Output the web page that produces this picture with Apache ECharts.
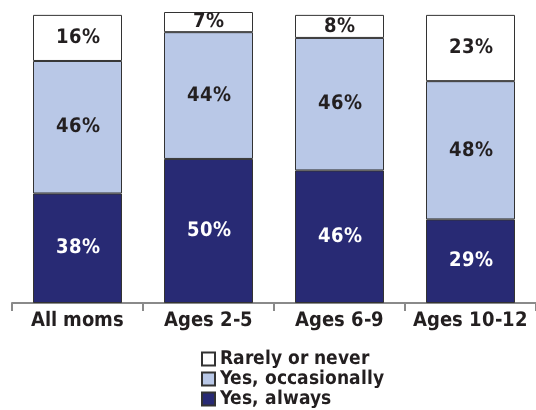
<!DOCTYPE html>
<html>
<head>
<meta charset="utf-8">
<script src="https://cdn.jsdelivr.net/npm/echarts@6/dist/echarts.min.js"></script>
<style>
  @font-face {
    font-family: 'CondBold';
    font-weight: bold;
    src: local('DejaVu Sans Condensed Bold'), local('DejaVuSansCondensed-Bold');
  }
  html, body { margin: 0; padding: 0; background: #ffffff; }
  #chart { width: 536px; height: 410px; }
</style>
</head>
<body>
<div id="chart"></div>
<script>
// Share of moms, by age of child
const categories = ['All moms', 'Ages 2-5', 'Ages 6-9', 'Ages 10-12'];
const yesAlways = [38, 50, 46, 29];
const yesOccasionally = [46, 44, 46, 48];
const rarelyOrNever = [16, 7, 8, 23];
const seriesNames = ['Yes, always', 'Yes, occasionally', 'Rarely or never'];
const legendOrder = ['Rarely or never', 'Yes, occasionally', 'Yes, always'];

const FONT = "CondBold, 'DejaVu Sans', sans-serif";
const colors = ['#282a74', '#b9c8e7', '#ffffff'];
const labelColors = ['#ffffff', '#231f20', '#231f20'];
const values = [yesAlways, yesOccasionally, rarelyOrNever];

function draw() {
  const chart = echarts.init(document.getElementById('chart'), null, { renderer: 'canvas' });
  chart.setOption({
    animation: false,
    backgroundColor: '#ffffff',
    grid: { left: 12, width: 533, top: 12, height: 291 },
    xAxis: {
      type: 'category',
      data: categories,
      boundaryGap: true,
      axisLine: { lineStyle: { color: '#8a8a8a', width: 2 } },
      axisTick: { show: true, length: 8, lineStyle: { color: '#8a8a8a', width: 2 } },
      axisLabel: {
        interval: 0,
        margin: 8,
        color: '#231f20',
        fontFamily: FONT,
        fontWeight: 'bold',
        fontSize: 20
      }
    },
    yAxis: { type: 'value', min: 0, max: 101, show: false },
    legend: {
      orient: 'vertical',
      left: 201,
      top: 349,
      padding: 0,
      data: legendOrder,
      icon: 'rect',
      itemWidth: 13,
      itemHeight: 13,
      itemGap: 0,
      selectedMode: false,
      textStyle: {
        color: '#231f20',
        fontFamily: FONT,
        fontWeight: 'bold',
        fontSize: 19,
        lineHeight: 20
      }
    },
    series: seriesNames.map((name, i) => ({
      name: name,
      type: 'bar',
      stack: 'total',
      barWidth: 89,
      data: values[i],
      itemStyle: { color: colors[i], borderColor: '#333333', borderWidth: 1 },
      label: {
        show: true,
        position: 'inside',
        formatter: '{c}%',
        color: labelColors[i],
        fontFamily: FONT,
        fontWeight: 'bold',
        fontSize: 20
      }
    }))
  });
}

document.fonts.load('bold 20px CondBold').then(draw, draw);
</script>
</body>
</html>
